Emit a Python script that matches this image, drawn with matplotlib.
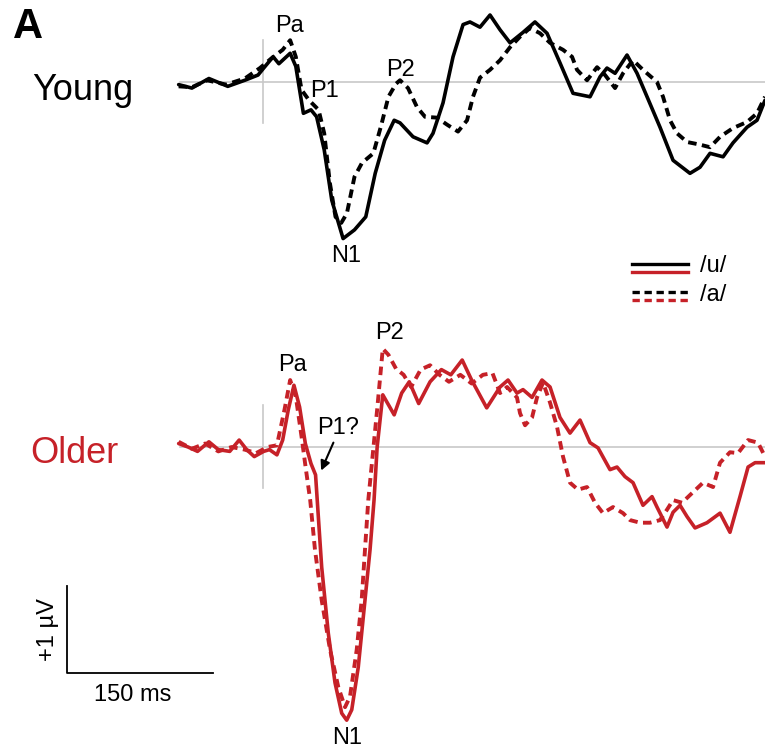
import matplotlib.pyplot as plt
from matplotlib.lines import Line2D

plt.rcParams['font.family'] = ['Liberation Sans', 'DejaVu Sans']

RED = '#c62128'
GRAY = '#c8c8c8'

# ERP waveforms: time in ms, amplitude in microvolts
young_u_t = [-86.7, -73.1, -55.6, -36.2, -18.7, -5.1, 0.7, 10.4, 16.3, 27.9, 33.7, 41.5, 49.3, 55.1,
             62.9, 70.7, 82.3, 94.0, 105.6, 115.3, 125.0, 134.8, 140.8, 154.2, 168.6, 174.7, 185.0,
             195.3, 205.6, 212.7, 223.0, 233.3, 243.6, 253.9, 267.2, 279.5, 291.9, 305.2, 318.6,
             336.1, 346.4, 353.5, 361.8, 374.1, 384.4, 394.7, 408.0, 421.4, 438.8, 449.1, 459.4,
             472.8, 483.0, 497.4, 507.7, 515.9]
young_u_v = [-0.03, -0.07, 0.04, -0.05, 0.02, 0.08, 0.16, 0.29, 0.21, 0.33, 0.18, -0.36, -0.32, -0.40,
             -0.78, -1.36, -1.80, -1.70, -1.55, -1.05, -0.67, -0.44, -0.47, -0.63, -0.70, -0.59, -0.24,
             0.29, 0.66, 0.69, 0.63, 0.77, 0.60, 0.45, 0.57, 0.69, 0.56, 0.22, -0.13,
             -0.17, 0.06, 0.16, 0.10, 0.31, 0.10, -0.17, -0.52, -0.90, -1.05, -0.98, -0.82,
             -0.86, -0.70, -0.52, -0.44, -0.21]

young_a_t = [-86.7, -73.1, -57.5, -38.1, -18.7, -3.2, 8.5, 20.2, 27.9, 33.7, 39.6, 47.3, 57.1, 62.9,
             68.7, 74.5, 80.4, 86.2, 94.0, 101.7, 113.4, 121.2, 128.9, 136.7, 140.8, 149.0, 158.3,
             166.5, 178.8, 189.1, 200.4, 209.7, 215.8, 223.0, 233.3, 243.6, 253.9, 264.1, 274.4,
             284.7, 295.0, 308.3, 317.6, 322.7, 333.0, 343.3, 351.5, 361.8, 370.0, 380.3, 390.5,
             404.9, 411.1, 418.3, 425.5, 435.8, 449.1, 459.4, 469.7, 483.0, 497.4, 507.7, 515.9]
young_a_v = [-0.05, -0.06, 0.02, -0.03, 0.04, 0.16, 0.27, 0.37, 0.48, 0.29, -0.09, -0.21, -0.32, -0.59,
             -1.16, -1.55, -1.62, -1.51, -1.09, -0.93, -0.82, -0.51, -0.17, -0.02, 0.02, -0.07, -0.29,
             -0.40, -0.41, -0.49, -0.57, -0.44, -0.17, 0.05, 0.14, 0.25, 0.40, 0.52, 0.62,
             0.56, 0.45, 0.37, 0.29, 0.14, 0.02, 0.17, 0.08, -0.07, 0.10, 0.25, 0.14,
             0.00, -0.17, -0.44, -0.59, -0.69, -0.72, -0.75, -0.63, -0.53, -0.46, -0.36, -0.17]

older_u_t = [-86.7, -77.0, -67.3, -55.6, -45.9, -34.2, -24.5, -16.8, -9.0, 0.7, 6.6, 14.3, 20.2, 26.0,
             31.8, 37.6, 43.5, 49.3, 54.0, 60.3, 67.1, 74.0, 80.9, 86.0, 91.2, 97.9, 104.8, 110.0,
             114.1, 117.3, 123.1, 134.8, 142.5, 150.3, 160.0, 171.7, 183.3, 193.0, 204.7, 214.4,
             229.9, 243.6, 251.8, 261.0, 267.2, 276.5, 286.7, 295.0, 305.2, 315.5, 325.8, 336.1,
             344.3, 356.6, 363.8, 372.0, 380.3, 390.5, 399.8, 404.9, 415.2, 421.4, 428.6, 435.8,
             444.0, 456.3, 469.7, 479.9, 490.2, 498.5, 505.7, 515.9]
older_u_v = [0.04, 0.00, -0.05, 0.06, -0.03, -0.05, 0.08, -0.03, -0.11, -0.05, -0.03, -0.09, 0.08, 0.43,
             0.71, 0.46, 0.04, -0.19, -0.32, -1.38, -2.14, -2.71, -3.06, -3.14, -3.02, -2.53, -1.76, -1.18,
             -0.61, 0.00, 0.60, 0.37, 0.62, 0.75, 0.50, 0.75, 0.89, 0.83, 1.00, 0.77,
             0.45, 0.69, 0.77, 0.62, 0.66, 0.57, 0.77, 0.69, 0.34, 0.16, 0.31, 0.05,
             -0.01, -0.26, -0.23, -0.34, -0.41, -0.67, -0.57, -0.69, -0.92, -0.75, -0.67, -0.80,
             -0.93, -0.87, -0.76, -0.98, -0.57, -0.23, -0.18, -0.18]

older_a_t = [-86.7, -73.1, -59.5, -45.9, -32.3, -18.7, -7.1, 4.6, 14.3, 22.1, 27.9, 33.7, 39.6, 44.0,
             48.5, 53.4, 60.3, 68.9, 77.4, 84.3, 89.4, 96.3, 101.4, 104.8, 108.2, 117.3, 123.1,
             128.9, 136.7, 144.5, 152.2, 162.0, 171.7, 181.4, 191.1, 202.8, 214.4, 226.0, 235.8,
             243.6, 250.8, 261.0, 264.1, 269.3, 276.5, 281.6, 287.8, 295.0, 302.2, 308.3, 315.5,
             323.7, 333.0, 341.2, 349.4, 359.7, 370.0, 377.2, 387.5, 397.7, 408.0, 415.2, 421.4,
             430.6, 440.9, 452.2, 462.5, 469.7, 479.9, 488.2, 498.5, 508.7, 515.9]
older_a_v = [0.06, -0.02, 0.04, -0.05, 0.00, -0.03, -0.07, 0.00, 0.02, 0.43, 0.77, 0.58, 0.12, -0.25,
             -0.61, -1.18, -1.76, -2.33, -2.76, -2.99, -2.87, -2.33, -1.76, -1.18, -0.61, 0.43, 1.13,
             1.06, 0.90, 0.83, 0.69, 0.89, 0.94, 0.83, 0.75, 0.83, 0.73, 0.83, 0.85,
             0.62, 0.69, 0.57, 0.39, 0.25, 0.34, 0.57, 0.74, 0.51, 0.23, -0.11, -0.41,
             -0.49, -0.46, -0.64, -0.76, -0.69, -0.76, -0.84, -0.87, -0.87, -0.84, -0.72, -0.61,
             -0.64, -0.53, -0.41, -0.46, -0.18, -0.06, -0.07, 0.08, 0.05, -0.11]

# peak labels: (text, time, amplitude)
young_peaks = [('Pa', 27.7, 0.64), ('P1', 62.7, -0.10), ('P2', 140.8, 0.14), ('N1', 85.3, -2.0)]
older_peaks = [('Pa', 29.8, 0.94), ('P2', 130.5, 1.31), ('P1?', 77.1, 0.22), ('N1', 86.3, -3.34)]

scale_ms = 150
scale_uv = 1

fig = plt.figure(figsize=(7.65, 7.51), dpi=100)
ax_y = fig.add_axes([0, 1 - 300 / 751, 1, 300 / 751])
ax_o = fig.add_axes([0, 0, 1, 451 / 751])
ax_y.set_xlim(-270.3, 515.9)
ax_o.set_xlim(-270.3, 515.9)
ax_y.set_ylim(-2.506, 0.9425)
ax_o.set_ylim(-3.494, 1.690)

dash = (0, (2.2, 1.4))
for ax, ut, uv, at, av, col in [(ax_y, young_u_t, young_u_v, young_a_t, young_a_v, 'black'),
                                (ax_o, older_u_t, older_u_v, older_a_t, older_a_v, RED)]:
    ax.axis('off')
    ax.axhline(0, xmin=(-85 + 270.3) / 786.2, xmax=1, color=GRAY, lw=1.2, zorder=1)
    ax.plot([0, 0], [-0.47, 0.48], color=GRAY, lw=1.2, zorder=1)
    ax.plot(at, av, color=col, lw=2.8, linestyle=dash, dash_capstyle='butt', zorder=2)
    ax.plot(ut, uv, color=col, lw=2.6, solid_joinstyle='round', solid_capstyle='round', zorder=3)

for txt, t, v in young_peaks:
    ax_y.text(t, v, txt, fontsize=17, ha='center', va='center')
for txt, t, v in older_peaks:
    ax_o.text(t, v, txt, fontsize=17, ha='center', va='center')
ax_o.annotate('', xy=(58.6, -0.30), xytext=(73.5, 0.08),
              arrowprops=dict(arrowstyle='-|>', color='black', lw=1.5, mutation_scale=14))

# scale bar
x0, y0 = -201.4, -2.6
ax_o.plot([x0, x0, x0 + scale_ms], [y0 + scale_uv, y0, y0], color='black', lw=1.3)
ax_o.text(x0 - 20, y0 + scale_uv / 2, '+1 µV', fontsize=17, rotation=90, ha='center', va='center')
ax_o.text(x0 + 67, y0 - 0.25, '150 ms', fontsize=17, ha='center', va='center')

fig.text(13 / 765, 1 - 38 / 751, 'A', fontsize=30, fontweight='bold', ha='left', va='baseline')
fig.text(32 / 765, 1 - 100 / 751, 'Young', fontsize=26, ha='left', va='baseline')
fig.text(30 / 765, 1 - 463 / 751, 'Older', fontsize=26, ha='left', va='baseline', color=RED)

# legend
for py, col, ls in [(264, 'black', '-'), (272, RED, '-'), (292, 'black', dash), (300, RED, dash)]:
    fig.add_artist(Line2D([632 / 765, 688 / 765], [1 - py / 751, 1 - py / 751],
                          color=col, lw=2.4, linestyle=ls, transform=fig.transFigure))
fig.text(700 / 765, 1 - 266 / 751, '/u/', fontsize=17, ha='left', va='center')
fig.text(700 / 765, 1 - 295 / 751, '/a/', fontsize=17, ha='left', va='center')

fig.savefig('out.png', dpi=100)
